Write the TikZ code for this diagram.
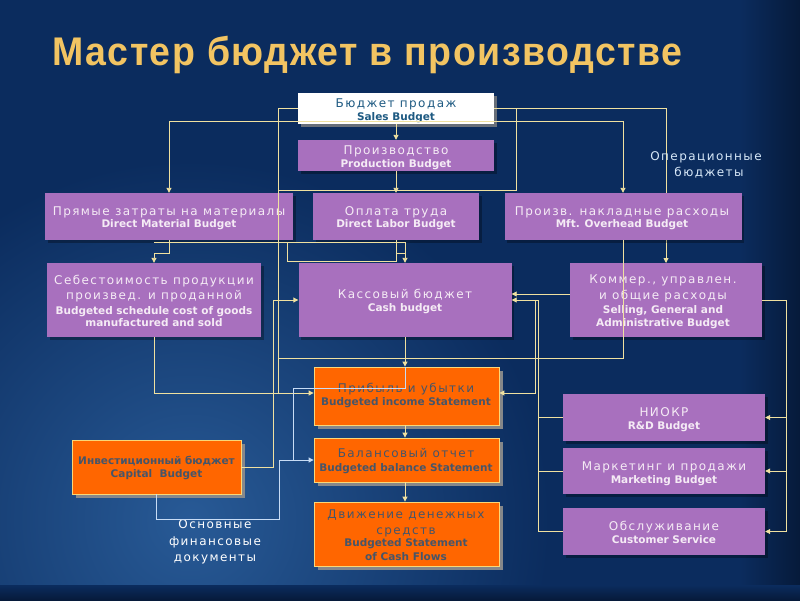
\documentclass[tikz,border=0pt]{standalone}
\usepackage{fontspec}
\setmainfont{DejaVu Sans}
\newfontfamily\rufont[LetterSpace=12]{DejaVu Sans}
\newfontfamily\enfont{DejaVu Sans}
\newfontfamily\ttlfont[LetterSpace=4]{Liberation Sans}
\usetikzlibrary{arrows.meta,shadows}
\definecolor{bgc}{RGB}{11,44,94}
\definecolor{bgl}{RGB}{40,90,150}
\definecolor{bgd}{RGB}{6,26,58}
\definecolor{purp}{RGB}{168,112,190}
\definecolor{orng}{RGB}{255,102,0}
\definecolor{obord}{RGB}{250,215,120}
\definecolor{conn}{RGB}{240,225,160}
\definecolor{connb}{RGB}{200,220,245}
\definecolor{salestxt}{RGB}{30,90,130}
\definecolor{orgtxt}{RGB}{70,85,105}
\definecolor{gold}{RGB}{242,196,98}
\definecolor{lbl}{RGB}{215,232,248}
\definecolor{ptxt}{RGB}{245,235,245}
\begin{document}
\begin{tikzpicture}[x=1pt,y=-1pt,
 pbox/.style={fill=purp, draw=none, inner sep=0, drop shadow={shadow xshift=2.5pt, shadow yshift=-2.5pt, fill=black, opacity=0.3}},
 wbox/.style={fill=white, draw=none, inner sep=0, drop shadow={shadow xshift=3pt, shadow yshift=-3pt, fill=gray, opacity=0.8}},
 obox/.style={fill=orng, draw=obord, line width=0.8pt, inner sep=0, drop shadow={shadow xshift=4pt, shadow yshift=-4pt, fill=gray!90, opacity=0.95}},
 rut/.style={font=\rufont\fontsize{12}{12}\selectfont, inner sep=0, text height=8.8pt, text depth=0pt},
 rub/.style={font=\enfont\bfseries\fontsize{10.5}{10.5}\selectfont, inner sep=0, text height=7.7pt, text depth=0pt},
 ent/.style={font=\enfont\bfseries\fontsize{10.5}{10.5}\selectfont, inner sep=0, text height=7.7pt, text depth=0pt},
 ln/.style={draw=conn, line width=0.9pt},
 lnb/.style={draw=connb, line width=0.9pt},
 arr/.style={-{Triangle[length=5pt,width=5pt]}},
]
\useasboundingbox (0,0) rectangle (800,600);
% background
\fill[bgc] (0,0) rectangle (800,600);
\shade[inner color=bgl, outer color=bgc] (190,520) circle (360);
\shade[left color=bgc, right color=bgd] (740,0) rectangle (800,600);
\shade[top color=bgc, bottom color=bgd] (0,585) rectangle (800,600);

% title
\node[anchor=base west, inner sep=0, text=gold] (title) at (52,65)
  {\ttlfont\bfseries\fontsize{40}{40}\selectfont\scalebox{0.937}[1]{Мастер бюджет в производстве}};

% connector behind overhead box
\draw[ln,arr] (516,108.5) -- (666,108.5) -- (666,263);

% boxes
\node[wbox, minimum width=196pt, minimum height=31pt] (sales) at (396,108.5) {};
\node[pbox, minimum width=196pt, minimum height=31pt] (prod) at (396,155.5) {};
\node[pbox, minimum width=248pt, minimum height=47pt] (dm) at (169,216.5) {};
\node[pbox, minimum width=166pt, minimum height=47pt] (labor) at (396,216.5) {};
\node[pbox, minimum width=237pt, minimum height=47pt] (ovh) at (623,216.5) {};
\node[pbox, minimum width=214pt, minimum height=74pt] (cogs) at (154,300) {};
\node[pbox, minimum width=213pt, minimum height=74pt] (cash) at (405,300) {};
\node[pbox, minimum width=192pt, minimum height=74pt] (sga) at (666,300) {};
\node[obox, minimum width=185pt, minimum height=58pt] (inc) at (406.5,396) {};
\node[obox, minimum width=185pt, minimum height=44pt] (bal) at (406.5,460) {};
\node[obox, minimum width=185pt, minimum height=64pt] (cf) at (406.5,534) {};
\node[obox, minimum width=169pt, minimum height=54pt] (cap) at (156.5,467) {};
\node[pbox, minimum width=202pt, minimum height=47pt] (rd) at (664,417.5) {};
\node[pbox, minimum width=202pt, minimum height=46pt] (mkt) at (664,471) {};
\node[pbox, minimum width=202pt, minimum height=47pt] (cs) at (664,531.5) {};

% box texts
\node[rut, text=salestxt] (salesA) at (396,103) {Бюджет продаж};
\node[ent, text=salestxt] (salesB) at (396,117) {Sales Budget};
\node[rut, text=ptxt] (prodA) at (396,150) {Производство};
\node[ent, text=ptxt] (prodB) at (396,164) {Production Budget};
\node[rut, text=ptxt] (dmA) at (169,211) {Прямые затраты на материалы};
\node[ent, text=ptxt] (dmB) at (169,224) {Direct Material Budget};
\node[rut, text=ptxt] (laborA) at (396,211) {Оплата труда};
\node[ent, text=ptxt] (laborB) at (396,224) {Direct Labor Budget};
\node[rut, text=ptxt] (ovhA) at (622,211) {Произв. накладные расходы};
\node[ent, text=ptxt] (ovhB) at (622,224) {Mft. Overhead Budget};
\node[rut, text=ptxt] (cogsA) at (154,280) {Себестоимость продукции};
\node[rut, text=ptxt] (cogsB) at (154,295) {произвед. и проданной};
\node[ent, text=ptxt] (cogsC) at (154,311) {Budgeted schedule cost of goods};
\node[ent, text=ptxt] (cogsD) at (154,323) {manufactured and sold};
\node[rut, text=ptxt] (cashA) at (405,294) {Кассовый бюджет};
\node[ent, text=ptxt] (cashB) at (405,308) {Cash budget};
\node[rut, text=ptxt] (sgaA) at (663,279) {Коммер., управлен.};
\node[rut, text=ptxt] (sgaB) at (663,295) {и общие расходы};
\node[ent, text=ptxt] (sgaC) at (663,310) {Selling, General and};
\node[ent, text=ptxt] (sgaD) at (663,323) {Administrative Budget};
\node[rut, text=orgtxt] (incA) at (406,388) {Прибыль и убытки};
\node[ent, text=orgtxt] (incB) at (406,402) {Budgeted income Statement};
\node[rut, text=orgtxt] (balA) at (406,453) {Балансовый отчет};
\node[ent, text=orgtxt] (balB) at (406,468) {Budgeted balance Statement};
\node[rut, text=orgtxt] (cfA) at (406,514) {Движение денежных};
\node[rut, text=orgtxt] (cfB) at (406,530) {средств};
\node[ent, text=orgtxt] (cfC) at (406,543) {Budgeted Statement};
\node[ent, text=orgtxt] (cfD) at (406,557) {of Cash Flows};
\node[rub, text=orgtxt] (capA) at (156.5,461) {Инвестиционный бюджет};
\node[ent, text=orgtxt] (capB) at (156.5,474) {Capital\ \ Budget};
\node[rut, text=ptxt] (rdA) at (664,412) {НИОКР};
\node[ent, text=ptxt] (rdB) at (664,426) {R\&D Budget};
\node[rut, text=ptxt] (mktA) at (664,466) {Маркетинг и продажи};
\node[ent, text=ptxt] (mktB) at (664,480) {Marketing Budget};
\node[rut, text=ptxt] (csA) at (664,526) {Обслуживание};
\node[ent, text=ptxt] (csB) at (664,540) {Customer Service};

% free labels
\node[rut, text=lbl] (opA) at (706,156) {Операционные};
\node[rut, text=lbl] (opB) at (709,172) {бюджеты};
\node[rut, text=white] (osA) at (215,524) {Основные};
\node[rut, text=white] (osB) at (215,541) {финансовые};
\node[rut, text=white] (osC) at (215,557) {документы};

% connectors (yellow)
\coordinate (s1) at (169,121);
\coordinate (s2) at (623,121);
\draw[ln,arr] (sales.west) -- (278,108.5) -- (278,393) -- (inc.west |- 0,393);
\draw[ln] (sales.east) -- (516,108.5) -- (516,190) -- (278,190);
\draw[ln,arr] (sales.south) -- (prod.north);
\draw[ln,arr] (prod.south) -- (labor.north);
\draw[ln,arr] (s1) -- (dm.north);
\draw[ln,arr] (s1) -- (s2) -- (ovh.north);
\draw[ln,arr] (dm.south) -- (169,253) -- (154,253) -- (cogs.north);
\draw[ln,arr] (154,242) -- (405,242) -- (cash.north);
\draw[ln] (labor.south) -- (396,253) -- (405,253);
\draw[ln] (labor.south) -- (396,261) -- (287,261) -- (287,242);
\draw[ln] (ovh.south) -- (623,358) -- (278,358);
\draw[ln,arr] (cash.south) -- (cash.south |- inc.north);
\draw[ln] (cogs.south) -- (154,393) -- (278,393);
\draw[ln,arr] (cap.east) -- (273,467) -- (273,300) -- (cash.west);
\draw[ln,arr] (sga.west |- 0,294) -- (cash.east |- 0,294);
\draw[ln,arr] (538,531.5) -- (538,300) -- (cash.east);
\draw[ln] (rd.west) -- (538,417.5);
\draw[ln] (mkt.west) -- (538,471);
\draw[ln] (cs.west) -- (538,531.5);
\draw[ln,arr] (535,300) -- (535,393) -- (inc.east |- 0,393);
\draw[ln] (sga.east) -- (786,300) -- (786,531.5);
\draw[ln,arr] (786,417.5) -- (rd.east);
\draw[ln,arr] (786,471) -- (mkt.east);
\draw[ln,arr] (786,531.5) -- (cs.east);
\draw[ln,arr] (cash.south |- inc.south) -- (cash.south |- bal.north);
\draw[ln,arr] (cash.south |- bal.south) -- (cash.south |- cf.north);
% connectors (light blue)
\draw[lnb,arr] (cap.south) -- (156.5,519) -- (279,519) -- (279,460) -- (bal.west);
\draw[lnb] (293,460) -- (293,388) -- (405,388) -- (cash.south |- inc.north);
\end{tikzpicture}
\end{document}
